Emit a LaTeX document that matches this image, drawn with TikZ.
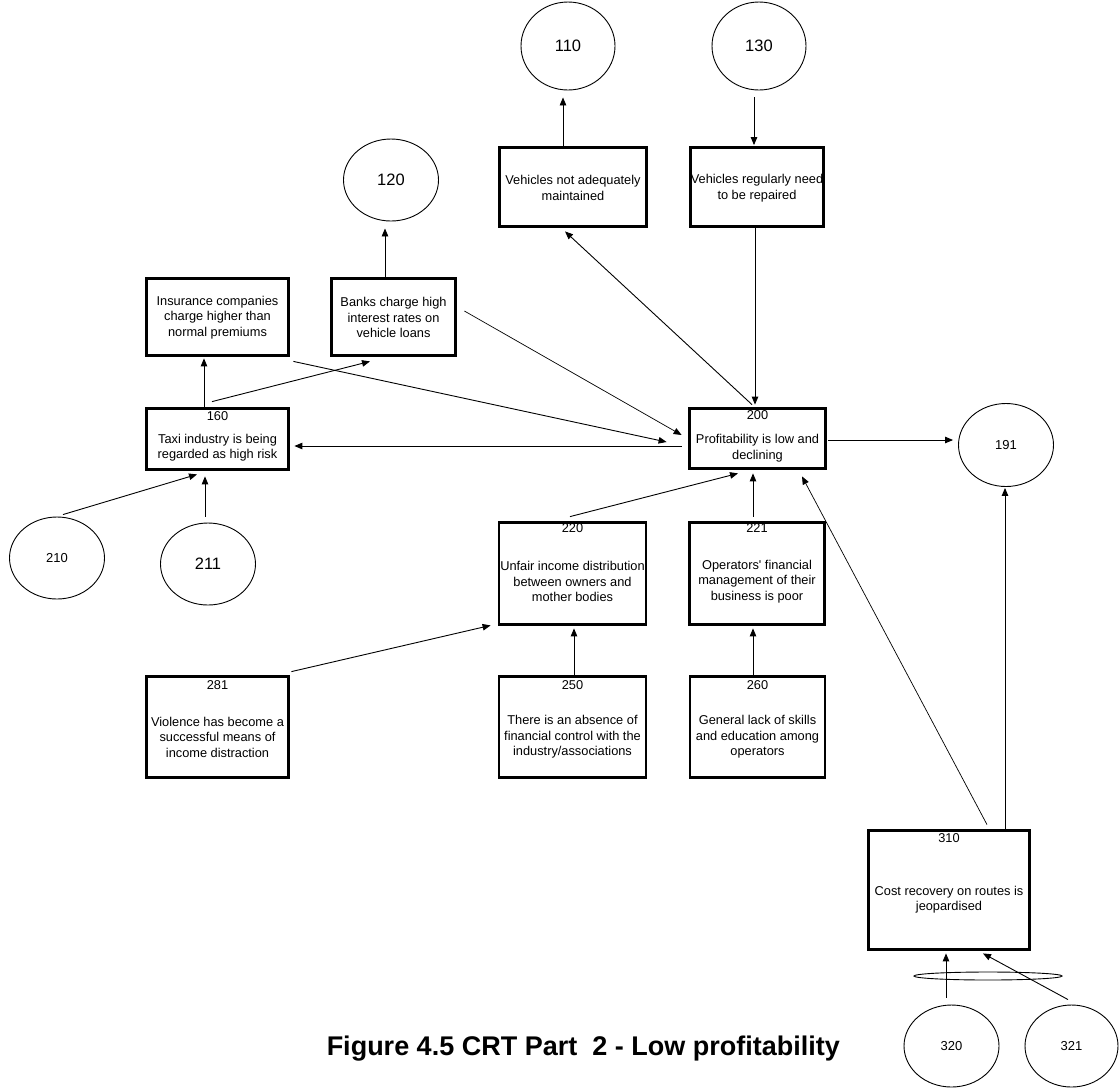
\documentclass[tikz,border=0pt]{standalone}
\usepackage{fontspec}
\setmainfont{Liberation Sans}
\usetikzlibrary{arrows.meta,shapes.geometric}
\begin{document}
\begin{tikzpicture}[x=1pt,y=-1pt,
  box/.style args={#1/#2}{draw,line width=2.8pt,inner sep=0pt,minimum width=#1pt,minimum height=#2pt},
  ell/.style args={#1/#2}{draw,ellipse,line width=0.9pt,inner sep=0pt,minimum width=#1pt,minimum height=#2pt},
  big/.style={font=\fontsize{16.5}{19}\selectfont},
  small/.style={font=\fontsize{13}{15}\selectfont},
  txt/.style={align=center,inner sep=0pt,font=\fontsize{12.8}{15.5}\selectfont},
  num/.style={inner sep=0pt,font=\fontsize{12.8}{15.5}\selectfont},
  arr/.style={-{Triangle[length=8pt,width=6.5pt]},line width=0.9pt},
  thin/.style={-{Triangle[length=8pt,width=6.5pt]},line width=0.7pt}]
\useasboundingbox (0,0) rectangle (1119,1088);

% outcome / cause circles
\node[ell=94/88,big]  (e110) at (568,46)  {110};
\node[ell=94/88,big]  (e130) at (759,46)  {130};
\node[ell=95/82,big]  (e120) at (391,180) {120};
\node[ell=95/83,small](e191) at (1006,445){191};
\node[ell=95/82,small](e210) at (57,558)  {210};
\node[ell=95/82,big]  (e211) at (208,564) {211};
\node[ell=95/82,small](e320) at (951.5,1046){320};
\node[ell=93/82,small](e321) at (1071.5,1046){321};
\node[ell=148/8] (andring) at (988,976) {};

% entity boxes
\node[box=147/79] (vnam) at (573,187) {};
\node[txt] (tvnam) at (573,188) {Vehicles not adequately\\maintained};
\node[box=133/79] (vrnr) at (757,187) {};
\node[txt] (tvrnr) at (757,188) {Vehicles regularly need\\to be repaired};
\node[box=142/77] (ins) at (217.5,317) {};
\node[txt] (tins) at (217.5,317.5) {Insurance companies\\charge higher than\\normal premiums};
\node[box=124/77] (bank) at (393.5,317) {};
\node[txt] (tbank) at (393.5,317.5) {Banks charge high\\interest rates on\\vehicle loans};

\node[box=142/61] (b160) at (217.5,439) {};
\node[num] (n160) at (217.5,416) {160};
\node[txt] (t160) at (217.5,447.5) {Taxi industry is being\\regarded as high risk};

\node[box=136/60] (b200) at (757.5,438.5) {};
\node[num] (n200) at (757.5,415) {200};
\node[txt] (t200) at (757.5,448) {Profitability is low and\\declining};

\node[box=147/102] (b220) at (572.5,573.5) {};
\node[num] (n220) at (572.5,528) {220};
\node[txt] (t220) at (572.5,581.5) {Unfair income distribution\\between owners and\\mother bodies};

\node[box=135/102] (b221) at (757,573.5) {};
\node[num] (n221) at (757,528) {221};
\node[txt] (t221) at (757,581.5) {Operators\textquotesingle\ financial\\management of their\\business is poor};

\node[box=142/101] (b281) at (217.5,727) {};
\node[num] (n281) at (217.5,685) {281};
\node[txt] (t281) at (217.5,737) {Violence has become a\\successful means of\\income distraction};

\node[box=147/101] (b250) at (572.5,727) {};
\node[num] (n250) at (572.5,685) {250};
\node[txt] (t250) at (572.5,737) {There is an absence of\\financial control with the\\industry/associations};

\node[box=135/101] (b260) at (757.5,727) {};
\node[num] (n260) at (757.5,685) {260};
\node[txt] (t260) at (757.5,737) {General lack of skills\\and education among\\operators};

\node[box=161/119] (b310) at (949,890) {};
\node[num] (n310) at (949,838) {310};
\node[txt] (t310) at (949,899.5) {Cost recovery on routes is\\jeopardised};

% causal arrows
\draw[arr] ([xshift=-10pt]vnam.north) -- ([xshift=-5pt,yshift=-7pt]e110.south);
\draw[arr] ([xshift=-5pt,yshift=-7pt]e130.south) -- ([xshift=-3pt,yshift=1pt]vrnr.north);
\draw[arr] ([xshift=-2pt]vrnr.south) -- ([xshift=-2.5pt,yshift=2.5pt]b200.north);
\draw[arr] ([xshift=-5.5pt,yshift=2.5pt]b200.north) -- ([xshift=-8pt,yshift=-3.5pt]vnam.south);
\draw[arr] ([xshift=-8.5pt]bank.north) -- ([xshift=-6pt,yshift=-7pt]e120.south);
\draw[arr] ([xshift=-13.5pt]b160.north) -- ([xshift=-13.5pt,yshift=-1.5pt]ins.south);
\draw[arr] ([xshift=-5.5pt,yshift=5.5pt]b160.north) -- ([xshift=-23.5pt,yshift=-4.5pt]bank.south);
\draw[arr] ([xshift=3.5pt,yshift=-4.5pt]ins.south east) -- ([xshift=-21.5pt,yshift=-3.5pt]b200.west);
\draw[thin] ([xshift=7.5pt,yshift=6pt]bank.east) -- ([xshift=-6.5pt,yshift=3.5pt]b200.west);
\draw[arr] ([xshift=-6.5pt,yshift=-7.5pt]b200.west) -- ([xshift=4.5pt,yshift=-7pt]b160.east);
\draw[arr] ([xshift=1.5pt,yshift=-1.5pt]b200.east) -- ([xshift=-5pt,yshift=5pt]e191.west);
\draw[arr] ([xshift=6pt,yshift=2pt]e210.north) -- ([xshift=-20.5pt,yshift=-3.5pt]b160.south);
\draw[arr] ([xshift=-3pt,yshift=6pt]e211.north) -- ([xshift=-12.5pt,yshift=-5.5pt]b160.south);
\draw[arr] ([xshift=-2.5pt,yshift=4.5pt]b220.north) -- ([xshift=-19.5pt,yshift=-3.5pt]b200.south);
\draw[arr] ([xshift=-4pt,yshift=4.5pt]b221.north) -- ([xshift=-4.5pt,yshift=-3.5pt]b200.south);
\draw[arr] ([xshift=1.5pt]b250.north) -- ([xshift=1.5pt,yshift=-2.5pt]b220.south);
\draw[arr] ([xshift=-4.5pt]b260.north) -- ([xshift=-4pt,yshift=-2.5pt]b221.south);
\draw[arr] ([xshift=1.5pt,yshift=3.5pt]b281.north east) -- ([xshift=-7pt,yshift=0.5pt]b220.south west);
\draw[arr] ([xshift=56pt]b310.north) -- ([xshift=-1pt,yshift=-1pt]e191.south);
\draw[thin] ([xshift=38pt,yshift=4.5pt]b310.north) -- ([xshift=44.5pt,yshift=-6.5pt]b200.south);
\draw[arr] ([xshift=-5.5pt,yshift=7pt]e320.north) -- ([xshift=-3pt,yshift=-2.5pt]b310.south);
\draw[arr] ([xshift=-3.5pt,yshift=5pt]e321.north) -- ([xshift=34pt,yshift=-2.5pt]b310.south);

% caption
\node[anchor=base east,inner sep=0pt,font=\fontsize{27}{32}\selectfont\bfseries] (caption) at (840,1055)
  {Figure 4.5 CRT Part\ \ 2 - Low profitability};
\end{tikzpicture}
\end{document}
